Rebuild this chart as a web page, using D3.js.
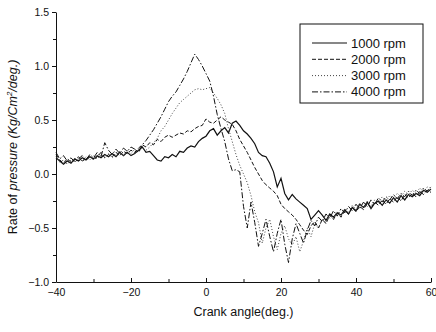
<!DOCTYPE html>
<html>
<head>
<meta charset="utf-8">
<script src="https://cdn.jsdelivr.net/npm/d3@7"></script>
<style>
  html, body { margin: 0; padding: 0; background: #fff; }
  svg { display: block; font-family: "Liberation Sans", Arial, sans-serif; }
  .axis path, .axis line { stroke: #111; }
  .axis text { fill: #111; font-size: 10.5px; }
</style>
</head>
<body>
<div id="chart"></div>
<script>
// crank angle, one reading per degree
const angles = d3.range(-40, 61);

const rpm1000 = [
  0.15, 0.12, 0.09, 0.12, 0.10, 0.14, 0.12, 0.15, 0.13, 0.16,
  0.14, 0.17, 0.15, 0.18, 0.16, 0.19, 0.16, 0.20, 0.17, 0.20,
  0.17, 0.19, 0.22, 0.25, 0.20, 0.21, 0.17, 0.13, 0.12, 0.16,
  0.15, 0.18, 0.16, 0.21, 0.20, 0.24, 0.26, 0.25, 0.30, 0.33,
  0.35, 0.40, 0.42, 0.36, 0.40, 0.43, 0.38, 0.47, 0.49, 0.45,
  0.40, 0.37, 0.33, 0.28, 0.20, 0.17, 0.16, 0.10, 0.02, -0.12,
  -0.04, -0.18, -0.24, -0.19, -0.23, -0.26, -0.29, -0.32, -0.42, -0.38,
  -0.34, -0.38, -0.43, -0.37, -0.40, -0.36, -0.38, -0.33, -0.37, -0.31,
  -0.34, -0.28, -0.31, -0.26, -0.32, -0.27, -0.25, -0.29, -0.24, -0.27,
  -0.22, -0.26, -0.20, -0.24, -0.19, -0.21, -0.18, -0.20, -0.15, -0.17,
  -0.14
];

const rpm2000 = [
  0.18, 0.13, 0.10, 0.14, 0.11, 0.13, 0.16, 0.12, 0.14, 0.17,
  0.13, 0.16, 0.20, 0.15, 0.18, 0.16, 0.20, 0.17, 0.21, 0.19,
  0.22, 0.20, 0.24, 0.27, 0.25, 0.29, 0.27, 0.32, 0.30, 0.34,
  0.36, 0.34, 0.36, 0.38, 0.37, 0.40, 0.39, 0.42, 0.44, 0.45,
  0.51, 0.48, 0.47, 0.50, 0.53, 0.50, 0.48, 0.46, 0.40, 0.32,
  0.26, 0.20, 0.13, 0.06, 0.00, -0.06, -0.10, -0.13, -0.16, -0.20,
  -0.28, -0.32, -0.35, -0.38, -0.42, -0.47, -0.52, -0.56, -0.48, -0.44,
  -0.50, -0.42, -0.46, -0.38, -0.42, -0.36, -0.40, -0.34, -0.37, -0.31,
  -0.35, -0.30, -0.33, -0.27, -0.31, -0.26, -0.29, -0.24, -0.28, -0.23,
  -0.26, -0.21, -0.25, -0.19, -0.22, -0.18, -0.21, -0.16, -0.19, -0.15,
  -0.17
];

const rpm3000 = [
  0.16, 0.11, 0.13, 0.09, 0.13, 0.11, 0.15, 0.12, 0.16, 0.13,
  0.17, 0.14, 0.18, 0.15, 0.19, 0.15, 0.18, 0.21, 0.17, 0.22,
  0.19, 0.23, 0.20, 0.24, 0.22, 0.25, 0.29, 0.33, 0.40, 0.44,
  0.50, 0.56, 0.61, 0.66, 0.69, 0.72, 0.75, 0.78, 0.79, 0.78,
  0.79, 0.80, 0.75, 0.70, 0.64, 0.56, 0.42, 0.30, 0.18, 0.08,
  0.00, -0.08, -0.20, -0.35, -0.45, -0.64, -0.50, -0.42, -0.58, -0.70,
  -0.55, -0.48, -0.60, -0.66, -0.58, -0.72, -0.62, -0.50, -0.58, -0.46,
  -0.50, -0.42, -0.45, -0.38, -0.42, -0.35, -0.39, -0.32, -0.36, -0.29,
  -0.33, -0.27, -0.31, -0.25, -0.29, -0.24, -0.27, -0.21, -0.25, -0.20,
  -0.23, -0.18, -0.21, -0.16, -0.19, -0.15, -0.18, -0.13, -0.16, -0.12,
  -0.13
];

const rpm4000 = [
  0.20, 0.14, 0.17, 0.12, 0.15, 0.11, 0.14, 0.17, 0.13, 0.18,
  0.15, 0.20, 0.16, 0.29, 0.22, 0.18, 0.23, 0.19, 0.24, 0.21,
  0.25, 0.23, 0.20, 0.27, 0.31, 0.36, 0.41, 0.47, 0.53, 0.60,
  0.67, 0.72, 0.76, 0.82, 0.88, 0.95, 1.03, 1.11, 1.06, 1.00,
  0.93, 0.86, 0.72, 0.55, 0.42, 0.30, 0.14, 0.03, 0.04, 0.02,
  -0.30, -0.50, -0.26, -0.45, -0.67, -0.55, -0.42, -0.58, -0.72, -0.55,
  -0.42, -0.65, -0.82, -0.60, -0.46, -0.55, -0.64, -0.52, -0.43, -0.48,
  -0.40, -0.44, -0.37, -0.41, -0.34, -0.39, -0.32, -0.36, -0.30, -0.34,
  -0.28, -0.32, -0.26, -0.30, -0.24, -0.28, -0.22, -0.26, -0.21, -0.24,
  -0.19, -0.23, -0.18, -0.21, -0.16, -0.20, -0.15, -0.18, -0.13, -0.16,
  -0.12
];

const seriesNames = ["1000 rpm", "2000 rpm", "3000 rpm", "4000 rpm"];
const seriesValues = [rpm1000, rpm2000, rpm3000, rpm4000];
const dashes = [null, "4,2", "1,2", "6,2,1.5,2"];
const xTicks = [-40, -20, 0, 20, 40, 60];
const yTicks = [-1.0, -0.5, 0.0, 0.5, 1.0, 1.5];

const width = 436, height = 332;
const margin = { top: 12, right: 5, bottom: 50, left: 56 };

const svg = d3.select("#chart").append("svg")
  .attr("width", width).attr("height", height);

const x = d3.scaleLinear().domain([-40, 60]).range([margin.left, width - margin.right]);
const y = d3.scaleLinear().domain([-1.0, 1.5]).range([height - margin.bottom, margin.top]);

// minor ticks first, labels come from the major axes
svg.append("g").attr("class", "axis")
  .attr("transform", `translate(0,${y(-1)})`)
  .call(d3.axisBottom(x).tickValues(d3.range(-30, 60, 20)).tickSize(-3).tickFormat(""))
  .call((g) => g.select(".domain").remove());
svg.append("g").attr("class", "axis")
  .attr("transform", `translate(${x(-40)},0)`)
  .call(d3.axisLeft(y).tickValues(d3.range(-0.75, 1.5, 0.5)).tickSize(3).tickFormat(""))
  .call((g) => g.select(".domain").remove());

svg.append("g").attr("class", "axis")
  .attr("transform", `translate(0,${y(-1)})`)
  .call(d3.axisBottom(x).tickValues(xTicks).tickSizeInner(-4).tickSizeOuter(0).tickPadding(7).tickFormat(d3.format("d")));
svg.append("g").attr("class", "axis")
  .attr("transform", `translate(${x(-40)},0)`)
  .call(d3.axisLeft(y).tickValues(yTicks).tickSizeInner(4).tickSizeOuter(0).tickPadding(3).tickFormat(d3.format(".1f")));

const line = d3.line()
  .x((d, i) => x(angles[i]))
  .y((d) => y(d));

svg.append("g").selectAll("path")
  .data(seriesValues)
  .join("path")
  .attr("fill", "none")
  .attr("stroke", (d, i) => (i === 2 ? "#444" : "#111"))
  .attr("stroke-width", (d, i) => (i === 0 ? 1.2 : 1))
  .attr("stroke-dasharray", (d, i) => dashes[i])
  .attr("d", line);

// legend
const legend = svg.append("g").attr("transform", "translate(300,24)");
legend.append("rect")
  .attr("width", 123).attr("height", 79)
  .attr("fill", "#fff").attr("stroke", "#111").attr("stroke-width", 1);
const rows = legend.selectAll("g.row")
  .data(seriesNames)
  .join("g").attr("class", "row")
  .attr("transform", (d, i) => `translate(0,${19 + i * 16.3})`);
rows.append("line")
  .attr("x1", 12).attr("x2", 47)
  .attr("stroke", (d, i) => (i === 2 ? "#444" : "#111"))
  .attr("stroke-width", (d, i) => (i === 0 ? 1.2 : 1))
  .attr("stroke-dasharray", (d, i) => dashes[i]);
rows.append("text")
  .attr("x", 51).attr("dy", "0.35em")
  .attr("font-size", 13).attr("fill", "#111")
  .text((d) => d);

// axis titles
svg.append("text")
  .attr("x", (x(-40) + x(60)) / 2 + 0).attr("y", 316)
  .attr("text-anchor", "middle").attr("font-size", 12.5).attr("fill", "#111")
  .text("Crank angle(deg.)");

const yTitle = svg.append("text")
  .attr("transform", `translate(17,${(y(-1) + y(1.5)) / 2}) rotate(-90)`)
  .attr("text-anchor", "middle").attr("font-size", 12.5).attr("fill", "#111");
yTitle.append("tspan").text("Rate of ");
yTitle.append("tspan").attr("font-style", "italic").text("pressure (Kg/Cm");
yTitle.append("tspan").attr("font-style", "italic").attr("font-size", 8).attr("dy", -5).text("2");
yTitle.append("tspan").attr("font-style", "italic").attr("dy", 5).text("/deg.)");
</script>
</body>
</html>
